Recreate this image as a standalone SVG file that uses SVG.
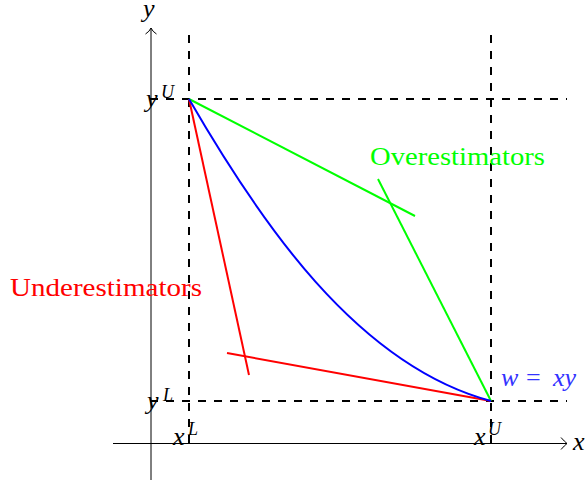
<svg xmlns="http://www.w3.org/2000/svg" width="588" height="485" viewBox="0 0 588 485">
<style>
.axis{stroke:#000;stroke-width:1;fill:none}
.dash{stroke:#000;stroke-width:2;stroke-dasharray:8 8;fill:none}
.red{stroke:#ff0000;stroke-width:2;fill:none}
.green{stroke:#00ff00;stroke-width:2;fill:none}
.blue{stroke:#0000ff;stroke-width:2;fill:none}
.m{font-family:"Liberation Serif","Times New Roman",serif;font-style:italic;font-size:26px;fill:#000}
.s{font-family:"Liberation Serif","Times New Roman",serif;font-style:italic;font-size:18px;fill:#000}
.t{font-family:"Liberation Serif","Times New Roman",serif;font-size:26px}
.bl{fill:#3333ff}
</style>
<rect width="588" height="485" fill="#fff"/>
<g id="axes">
  <path class="axis" d="M151,480 V28"/>
  <path class="axis" d="M145.5,34 Q149.5,31.5 151,28 Q152.5,31.5 156.5,34"/>
  <path class="axis" d="M113,443.5 H567"/>
  <path class="axis" d="M561,437.5 Q564.5,441.5 567,443.5 Q564.5,445.5 561,449.5"/>
</g>
<g id="bounds">
  <path class="dash" d="M150,99 H567"/>
  <path class="dash" d="M150,401 H567"/>
  <path class="dash" d="M189,443 V28"/>
  <path class="dash" d="M491,443 V28"/>
</g>
<g id="connectors">
  <path class="red" d="M189,99 L249,375"/>
  <path class="red" d="M227,353 L491,401"/>
  <path class="green" d="M189,99 L415,216"/>
  <path class="green" d="M378,179 L491,401"/>
  <path class="blue" d="M189,99 C259,220 356,365 491,401"/>
</g>
<g id="label-y"><text class="m" x="143" y="17">y</text></g>
<g id="label-x"><text class="m" x="573" y="450">x</text></g>
<g id="label-yU"><text class="m" x="146" y="107">y</text><text class="s" x="161" y="98">U</text></g>
<g id="label-yL"><text class="m" x="147" y="409">y</text><text class="s" x="163" y="401">L</text></g>
<g id="label-xL"><text class="m" x="173" y="445">x</text><text class="s" x="188" y="435">L</text></g>
<g id="label-xU"><text class="m" x="474" y="445">x</text><text class="s" x="488" y="435">U</text></g>
<g id="label-over"><text class="t" x="370" y="165" fill="#00ff00" textLength="175" lengthAdjust="spacingAndGlyphs">Overestimators</text></g>
<g id="label-under"><text class="t" x="10" y="296" fill="#ff0000" textLength="192" lengthAdjust="spacingAndGlyphs">Underestimators</text></g>
<g id="label-w"><text class="m bl" x="501" y="386">w</text><text class="t bl" x="526" y="386">=</text><text class="m bl" x="553" y="386">xy</text></g>
</svg>
